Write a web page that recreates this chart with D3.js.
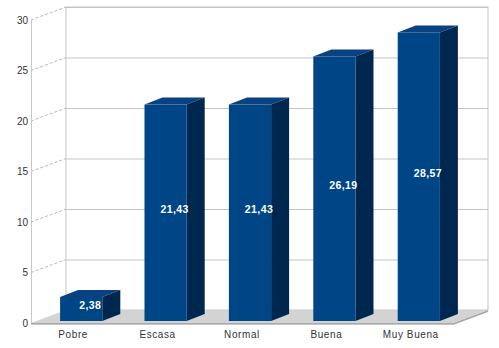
<!DOCTYPE html>
<html>
<head>
<meta charset="utf-8">
<script src="https://cdn.jsdelivr.net/npm/d3@7"></script>
<style>
  html, body { margin: 0; padding: 0; background: #fff; }
  svg { display: block; font-family: "Liberation Sans", Arial, sans-serif; }
</style>
</head>
<body>
<svg id="chart" width="499" height="348"></svg>
<script>
// Rating categories and their share (%)
const categories = ["Pobre", "Escasa", "Normal", "Buena", "Muy Buena"];
const values = [2.38, 21.43, 21.43, 26.19, 28.57];
const labels = ["2,38", "21,43", "21,43", "26,19", "28,57"];
const yTicks = [0, 5, 10, 15, 20, 25, 30];

const svg = d3.select("#chart");

// Front (floor-edge) plane geometry
const x = d3.scaleBand().domain(categories).range([31, 453])
  .paddingInner(0.5).paddingOuter(0.25);
const y = d3.scaleLinear().domain([0, 30]).range([323, 20]);

// Depth offset of the back wall relative to the front plane
const wallDx = 35, wallDy = -13;
// Bars sit slightly behind the front edge and have their own depth
const barShiftX = 8, barShiftY = -2;
const barDx = 18, barDy = -7;

const xL = 31, xR = 453;

// Back wall
svg.append("rect")
  .attr("x", xL + wallDx).attr("y", y(30) + wallDy)
  .attr("width", xR - xL).attr("height", y(0) - y(30))
  .attr("fill", "#fff").attr("stroke", "#c4c4c4").attr("stroke-width", 1);

// Horizontal gridlines on the back wall
svg.append("g").selectAll("line").data(yTicks.filter(d => d > 0)).join("line")
  .attr("x1", xL + wallDx).attr("x2", xR + wallDx)
  .attr("y1", d => y(d) + wallDy + 0.5).attr("y2", d => y(d) + wallDy + 0.5)
  .attr("stroke", "#c4c4c4").attr("stroke-width", 1);

// Left side wall: dashed tick lines running into depth
svg.append("g").selectAll("line").data(yTicks.filter(d => d > 0)).join("line")
  .attr("x1", xL).attr("y1", d => y(d))
  .attr("x2", xL + wallDx).attr("y2", d => y(d) + wallDy)
  .attr("stroke", "#b8b8b8").attr("stroke-width", 1)
  .attr("stroke-dasharray", "3,2");

// Front vertical axis line
svg.append("line")
  .attr("x1", xL + 0.5).attr("x2", xL + 0.5)
  .attr("y1", y(30)).attr("y2", y(0))
  .attr("stroke", "#c8c8c8").attr("stroke-width", 1);

// Floor with a thin front thickness
const floorThick = 2;
svg.append("path")
  .attr("d", `M${xL},${y(0)} L${xR},${y(0)} L${xR + wallDx},${y(0) + wallDy}
              L${xR + wallDx},${y(0) + wallDy + floorThick} L${xR},${y(0) + floorThick}
              L${xL},${y(0) + floorThick} Z`)
  .attr("fill", "#a8a8a8");
svg.append("path")
  .attr("d", `M${xL},${y(0)} L${xR},${y(0)} L${xR + wallDx},${y(0) + wallDy}
              L${xL + wallDx},${y(0) + wallDy} Z`)
  .attr("fill", "#d3d3d3");
svg.append("line")
  .attr("x1", xL).attr("x2", xR)
  .attr("y1", y(0) + 1.5).attr("y2", y(0) + 1.5)
  .attr("stroke", "#c6c6c6").attr("stroke-width", 1);

// Y tick labels
svg.append("g").selectAll("text").data(yTicks).join("text")
  .attr("x", 28).attr("y", d => y(d) + 3.5)
  .attr("text-anchor", "end")
  .attr("font-size", 10).attr("fill", "#333")
  .text(d => d);

// 3D bars
const bars = svg.append("g").selectAll("g").data(categories).join("g");
bars.each(function (c, i) {
  const g = d3.select(this);
  const x0 = x(c) + barShiftX;
  const x1 = x0 + x.bandwidth();
  const yTop = y(values[i]) + barShiftY;
  const yBot = y(0) + barShiftY;
  // top face
  g.append("path")
    .attr("d", `M${x0},${yTop} L${x1},${yTop} L${x1 + barDx},${yTop + barDy} L${x0 + barDx},${yTop + barDy} Z`)
    .attr("fill", "#0a4180");
  // side face
  g.append("path")
    .attr("d", `M${x1},${yTop} L${x1 + barDx},${yTop + barDy} L${x1 + barDx},${yBot + barDy} L${x1},${yBot} Z`)
    .attr("fill", "#002750");
  // front face
  g.append("rect")
    .attr("x", x0).attr("y", yTop)
    .attr("width", x1 - x0).attr("height", yBot - yTop)
    .attr("fill", "#004586");
  // value label, centred over the whole bar block
  g.append("text")
    .attr("x", (x0 + x1 + barDx) / 2)
    .attr("y", (yTop + yBot) / 2 + 0.5)
    .attr("text-anchor", "middle")
    .attr("font-size", 10.5).attr("font-weight", "bold")
    .attr("letter-spacing", 0.4)
    .attr("fill", "#fff")
    .text(labels[i]);
});

// Category labels
svg.append("g").selectAll("text").data(categories).join("text")
  .attr("x", d => x(d) + x.bandwidth() / 2)
  .attr("y", 338)
  .attr("text-anchor", "middle")
  .attr("font-size", 10).attr("letter-spacing", 0.6)
  .attr("fill", "#333")
  .text(d => d);
</script>
</body>
</html>
